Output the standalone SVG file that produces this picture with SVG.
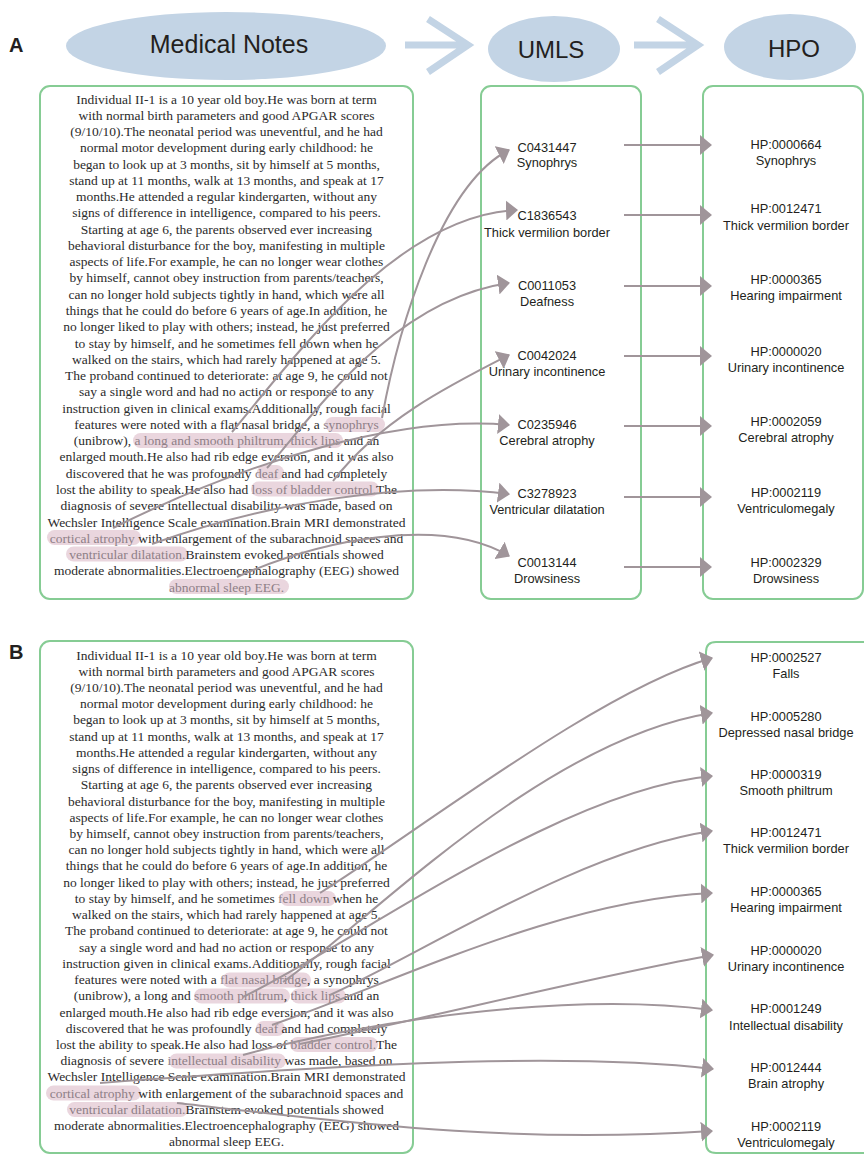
<svg xmlns="http://www.w3.org/2000/svg" width="864" height="1155" viewBox="0 0 864 1155">
<defs>
<style>
.bg{fill:#ffffff}
.ell{fill:#c3d4e5}
.chev{fill:none;stroke:#c3d4e5;stroke-width:7;stroke-linecap:butt}
.title{font-family:"Liberation Sans",Arial,sans-serif;fill:#231f20}
.panel{font-family:"Liberation Sans",Arial,sans-serif;font-weight:bold;font-size:20px;fill:#231f20}
.box{fill:none;stroke:#86cc94;stroke-width:2}
.note{font-family:"Liberation Serif","Times New Roman",serif;font-size:13.5px;fill:#2b2b2b;text-anchor:middle}
.hl{fill:#8e7f87}
.pill{fill:#ead6de}
.lab{font-family:"Liberation Sans",Arial,sans-serif;font-size:12.8px;fill:#231f20;text-anchor:middle}
.con{fill:none;stroke:#a0959a;stroke-width:2;marker-end:url(#ah)}
</style>
<marker id="ah" viewBox="0 0 12 20" refX="11" refY="10" markerWidth="12" markerHeight="20" markerUnits="userSpaceOnUse" orient="auto">
<path d="M0,0 L12,10 L0,20 Z" fill="#a0959a"/>
</marker>
</defs>
<rect class="bg" x="0" y="0" width="864" height="1155"/>

<!-- Panel A header -->
<text class="panel" x="9" y="52">A</text>
<g id="hdr-medical-notes">
<ellipse class="ell" cx="226" cy="46" rx="160" ry="34"/>
<text class="title" x="229" y="53" font-size="25" text-anchor="middle">Medical Notes</text>
</g>
<g id="hdr-arrow-1"><path class="chev" d="M405,45 H469 M428,19 L468,45 L428,72"/></g>
<g id="hdr-umls">
<ellipse class="ell" cx="554" cy="49" rx="66" ry="33"/>
<text class="title" x="551" y="58" font-size="24" text-anchor="middle">UMLS</text>
</g>
<g id="hdr-arrow-2"><path class="chev" d="M634,45 H699 M658,19 L698,45 L658,72"/></g>
<g id="hdr-hpo">
<ellipse class="ell" cx="790" cy="47" rx="66" ry="33"/>
<text class="title" x="794" y="57" font-size="24" text-anchor="middle">HPO</text>
</g>

<!-- Panel A notes -->
<g id="A-notes">
<rect class="box" x="40" y="86" width="373" height="513" rx="10"/>
<rect class="pill" x="325" y="417" width="60" height="15" rx="7.5"/>
<rect class="pill" x="133" y="433" width="210" height="15" rx="7.5"/>
<rect class="pill" x="257" y="465" width="27" height="15" rx="7.5"/>
<rect class="pill" x="251" y="481.5" width="128" height="15" rx="7.5"/>
<rect class="pill" x="47" y="530" width="94" height="15" rx="7.5"/>
<rect class="pill" x="66" y="546.5" width="122" height="15" rx="7.5"/>
<rect class="pill" x="169" y="579" width="120" height="15" rx="7.5"/>
<text class="note" x="226.5" y="103.5"><tspan x="226.5" dy="0">Individual II-1 is a 10 year old boy.He was born at term</tspan><tspan x="226.5" dy="16.27">with normal birth parameters and good APGAR scores</tspan><tspan x="226.5" dy="16.27">(9/10/10).The neonatal period was uneventful, and he had</tspan><tspan x="226.5" dy="16.27">normal motor development during early childhood: he</tspan><tspan x="226.5" dy="16.27">began to look up at 3 months, sit by himself at 5 months,</tspan><tspan x="226.5" dy="16.27">stand up at 11 months, walk at 13 months, and speak at 17</tspan><tspan x="226.5" dy="16.27">months.He attended a regular kindergarten, without any</tspan><tspan x="226.5" dy="16.27">signs of difference in intelligence, compared to his peers.</tspan><tspan x="226.5" dy="16.27">Starting at age 6, the parents observed ever increasing</tspan><tspan x="226.5" dy="16.27">behavioral disturbance for the boy, manifesting in multiple</tspan><tspan x="226.5" dy="16.27">aspects of life.For example, he can no longer wear clothes</tspan><tspan x="226.5" dy="16.27">by himself, cannot obey instruction from parents/teachers,</tspan><tspan x="226.5" dy="16.27">can no longer hold subjects tightly in hand, which were all</tspan><tspan x="226.5" dy="16.27">things that he could do before 6 years of age.In addition, he</tspan><tspan x="226.5" dy="16.27">no longer liked to play with others; instead, he just preferred</tspan><tspan x="226.5" dy="16.27">to stay by himself, and he sometimes fell down when he</tspan><tspan x="226.5" dy="16.27">walked on the stairs, which had rarely happened at age 5.</tspan><tspan x="226.5" dy="16.27">The proband continued to deteriorate: at age 9, he could not</tspan><tspan x="226.5" dy="16.27">say a single word and had no action or response to any</tspan><tspan x="226.5" dy="16.27">instruction given in clinical exams.Additionally, rough facial</tspan><tspan x="226.5" dy="16.27">features were noted with a flat nasal bridge, a <tspan class="hl">synophrys</tspan></tspan><tspan x="226.5" dy="16.27">(unibrow), <tspan class="hl">a long and smooth philtrum, thick lips</tspan> and an</tspan><tspan x="226.5" dy="16.27">enlarged mouth.He also had rib edge eversion, and it was also</tspan><tspan x="226.5" dy="16.27">discovered that he was profoundly <tspan class="hl">deaf</tspan> and had completely</tspan><tspan x="226.5" dy="16.27">lost the ability to speak.He also had <tspan class="hl">loss of bladder control.</tspan>The</tspan><tspan x="226.5" dy="16.27">diagnosis of severe intellectual disability was made, based on</tspan><tspan x="226.5" dy="16.27">Wechsler Intelligence Scale examination.Brain MRI demonstrated</tspan><tspan x="226.5" dy="16.27"><tspan class="hl">cortical atrophy</tspan> with enlargement of the subarachnoid spaces and</tspan><tspan x="226.5" dy="16.27"><tspan class="hl">ventricular dilatation.</tspan>Brainstem evoked potentials showed</tspan><tspan x="226.5" dy="16.27">moderate abnormalities.Electroencephalography (EEG) showed</tspan><tspan x="226.5" dy="16.27"><tspan class="hl">abnormal sleep EEG.</tspan></tspan></text>
</g>

<!-- Panel A UMLS -->
<g id="A-umls-box"><rect class="box" x="481" y="86" width="160" height="513" rx="10"/></g>
<g id="A-umls-1"><text class="lab" x="547" y="151.5">C0431447</text><text class="lab" x="547" y="166.5">Synophrys</text></g>
<g id="A-umls-2"><text class="lab" x="547" y="220">C1836543</text><text class="lab" x="547" y="236.5">Thick vermilion border</text></g>
<g id="A-umls-3"><text class="lab" x="547" y="289.5">C0011053</text><text class="lab" x="547" y="305.5">Deafness</text></g>
<g id="A-umls-4"><text class="lab" x="547" y="359.5">C0042024</text><text class="lab" x="547" y="375.5">Urinary incontinence</text></g>
<g id="A-umls-5"><text class="lab" x="547" y="428.5">C0235946</text><text class="lab" x="547" y="444.5">Cerebral atrophy</text></g>
<g id="A-umls-6"><text class="lab" x="547" y="497.5">C3278923</text><text class="lab" x="547" y="513.5">Ventricular dilatation</text></g>
<g id="A-umls-7"><text class="lab" x="547" y="566.5">C0013144</text><text class="lab" x="547" y="582.5">Drowsiness</text></g>

<!-- Panel A HPO -->
<g id="A-hpo-box"><rect class="box" x="703" y="86" width="160" height="513" rx="10"/></g>
<g id="A-hpo-1"><text class="lab" x="786" y="148.5">HP:0000664</text><text class="lab" x="786" y="164.5">Synophrys</text></g>
<g id="A-hpo-2"><text class="lab" x="786" y="212.5">HP:0012471</text><text class="lab" x="786" y="229.5">Thick vermilion border</text></g>
<g id="A-hpo-3"><text class="lab" x="786" y="283.5">HP:0000365</text><text class="lab" x="786" y="299.5">Hearing impairment</text></g>
<g id="A-hpo-4"><text class="lab" x="786" y="355.5">HP:0000020</text><text class="lab" x="786" y="371.5">Urinary incontinence</text></g>
<g id="A-hpo-5"><text class="lab" x="786" y="425.5">HP:0002059</text><text class="lab" x="786" y="441.5">Cerebral atrophy</text></g>
<g id="A-hpo-6"><text class="lab" x="786" y="496.5">HP:0002119</text><text class="lab" x="786" y="512.5">Ventriculomegaly</text></g>
<g id="A-hpo-7"><text class="lab" x="786" y="566.5">HP:0002329</text><text class="lab" x="786" y="582.5">Drowsiness</text></g>

<!-- Panel B -->
<text class="panel" x="9" y="659">B</text>
<g id="B-notes">
<rect class="box" x="40" y="641" width="373" height="512" rx="10"/>
<rect class="pill" x="280" y="891" width="56" height="15" rx="7.5"/>
<rect class="pill" x="222" y="972.5" width="89" height="15" rx="7.5"/>
<rect class="pill" x="194" y="988.5" width="96" height="15" rx="7.5"/>
<rect class="pill" x="291" y="988.5" width="55" height="15" rx="7.5"/>
<rect class="pill" x="256" y="1021" width="29" height="15" rx="7.5"/>
<rect class="pill" x="290" y="1037" width="88" height="15" rx="7.5"/>
<rect class="pill" x="169" y="1053.5" width="117" height="15" rx="7.5"/>
<rect class="pill" x="46" y="1085.5" width="95" height="15" rx="7.5"/>
<rect class="pill" x="67" y="1102" width="121" height="15" rx="7.5"/>
<text class="note" x="226.5" y="659.5"><tspan x="226.5" dy="0">Individual II-1 is a 10 year old boy.He was born at term</tspan><tspan x="226.5" dy="16.23">with normal birth parameters and good APGAR scores</tspan><tspan x="226.5" dy="16.23">(9/10/10).The neonatal period was uneventful, and he had</tspan><tspan x="226.5" dy="16.23">normal motor development during early childhood: he</tspan><tspan x="226.5" dy="16.23">began to look up at 3 months, sit by himself at 5 months,</tspan><tspan x="226.5" dy="16.23">stand up at 11 months, walk at 13 months, and speak at 17</tspan><tspan x="226.5" dy="16.23">months.He attended a regular kindergarten, without any</tspan><tspan x="226.5" dy="16.23">signs of difference in intelligence, compared to his peers.</tspan><tspan x="226.5" dy="16.23">Starting at age 6, the parents observed ever increasing</tspan><tspan x="226.5" dy="16.23">behavioral disturbance for the boy, manifesting in multiple</tspan><tspan x="226.5" dy="16.23">aspects of life.For example, he can no longer wear clothes</tspan><tspan x="226.5" dy="16.23">by himself, cannot obey instruction from parents/teachers,</tspan><tspan x="226.5" dy="16.23">can no longer hold subjects tightly in hand, which were all</tspan><tspan x="226.5" dy="16.23">things that he could do before 6 years of age.In addition, he</tspan><tspan x="226.5" dy="16.23">no longer liked to play with others; instead, he just preferred</tspan><tspan x="226.5" dy="16.23">to stay by himself, and he sometimes <tspan class="hl">fell down</tspan> when he</tspan><tspan x="226.5" dy="16.23">walked on the stairs, which had rarely happened at age 5.</tspan><tspan x="226.5" dy="16.23">The proband continued to deteriorate: at age 9, he could not</tspan><tspan x="226.5" dy="16.23">say a single word and had no action or response to any</tspan><tspan x="226.5" dy="16.23">instruction given in clinical exams.Additionally, rough facial</tspan><tspan x="226.5" dy="16.23">features were noted with a <tspan class="hl">flat nasal bridge</tspan>, a synophrys</tspan><tspan x="226.5" dy="16.23">(unibrow), a long and <tspan class="hl">smooth philtrum</tspan>, <tspan class="hl">thick lips</tspan> and an</tspan><tspan x="226.5" dy="16.23">enlarged mouth.He also had rib edge eversion, and it was also</tspan><tspan x="226.5" dy="16.23">discovered that he was profoundly <tspan class="hl">deaf</tspan> and had completely</tspan><tspan x="226.5" dy="16.23">lost the ability to speak.He also had loss of <tspan class="hl">bladder control.</tspan>The</tspan><tspan x="226.5" dy="16.23">diagnosis of severe <tspan class="hl">intellectual disability</tspan> was made, based on</tspan><tspan x="226.5" dy="16.23">Wechsler Intelligence Scale examination.Brain MRI demonstrated</tspan><tspan x="226.5" dy="16.23"><tspan class="hl">cortical atrophy</tspan> with enlargement of the subarachnoid spaces and</tspan><tspan x="226.5" dy="16.23"><tspan class="hl">ventricular dilatation.</tspan>Brainstem evoked potentials showed</tspan><tspan x="226.5" dy="16.23">moderate abnormalities.Electroencephalography (EEG) showed</tspan><tspan x="226.5" dy="16.23">abnormal sleep EEG.</tspan></text>
</g>

<g id="B-hpo-box"><path class="box" d="M870,642 H716 Q706,642 706,652 V1143 Q706,1153 716,1153 H870"/></g>
<g id="B-hpo-1"><text class="lab" x="786" y="661.5">HP:0002527</text><text class="lab" x="786" y="677.5">Falls</text></g>
<g id="B-hpo-2"><text class="lab" x="786" y="720.5">HP:0005280</text><text class="lab" x="786" y="736.5">Depressed nasal bridge</text></g>
<g id="B-hpo-3"><text class="lab" x="786" y="778.5">HP:0000319</text><text class="lab" x="786" y="794.5">Smooth philtrum</text></g>
<g id="B-hpo-4"><text class="lab" x="786" y="836.5">HP:0012471</text><text class="lab" x="786" y="852.5">Thick vermilion border</text></g>
<g id="B-hpo-5"><text class="lab" x="786" y="895.5">HP:0000365</text><text class="lab" x="786" y="911.5">Hearing impairment</text></g>
<g id="B-hpo-6"><text class="lab" x="786" y="954.5">HP:0000020</text><text class="lab" x="786" y="970.5">Urinary incontinence</text></g>
<g id="B-hpo-7"><text class="lab" x="786" y="1012.5">HP:0001249</text><text class="lab" x="786" y="1029.5">Intellectual disability</text></g>
<g id="B-hpo-8"><text class="lab" x="786" y="1071.5">HP:0012444</text><text class="lab" x="786" y="1087.5">Brain atrophy</text></g>
<g id="B-hpo-9"><text class="lab" x="786" y="1130.5">HP:0002119</text><text class="lab" x="786" y="1146.5">Ventriculomegaly</text></g>

<!-- Connectors -->
<g id="connectors">
<path class="con" d="M382,418 C398,330 440,185 509,150"/>
<path class="con" d="M232,432 C300,350 400,215 517,210"/>
<path class="con" d="M267,468 C310,420 390,300 509,283"/>
<path class="con" d="M333,481 C380,420 450,385 509,355"/>
<path class="con" d="M113,528 C250,460 400,415 509,425"/>
<path class="con" d="M152,544 C260,505 400,480 509,494"/>
<path class="con" d="M237,577 C320,540 440,515 509,556"/>
<path class="con" d="M624,145 H711"/>
<path class="con" d="M624,215 H711"/>
<path class="con" d="M624,286 H711"/>
<path class="con" d="M624,356 H711"/>
<path class="con" d="M624,426 H711"/>
<path class="con" d="M624,497 H711"/>
<path class="con" d="M624,567 H711"/>
<path class="con" d="M320,893 C420,830 600,690 712,658"/>
<path class="con" d="M283,982 C360,930 540,740 712,713"/>
<path class="con" d="M243,997 C360,940 560,790 712,776"/>
<path class="con" d="M330,995 C420,955 580,850 712,831"/>
<path class="con" d="M272,1025 C400,980 560,900 712,893"/>
<path class="con" d="M300,1044 C420,1020 600,975 713,955"/>
<path class="con" d="M243,1055 C350,1025 560,990 712,1010"/>
<path class="con" d="M100,1083 C300,1068 550,1050 713,1069"/>
<path class="con" d="M177,1103 C330,1120 500,1145 712,1131"/>
</g>
</svg>
